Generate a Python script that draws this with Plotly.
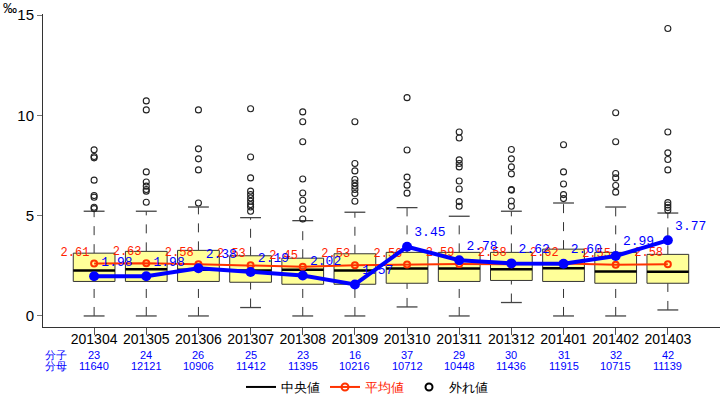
import plotly.graph_objects as go

months = ["201304", "201305", "201306", "201307", "201308", "201309",
          "201310", "201311", "201312", "201401", "201402", "201403"]
numerators = [23, 24, 26, 25, 23, 16, 37, 29, 30, 31, 32, 42]
denominators = [11640, 12121, 10906, 11412, 11395, 10216, 10712, 10448, 11436, 11915, 10715, 11139]
rates = [1.98, 1.98, 2.38, 2.19, 2.02, 1.57, 3.45, 2.78, 2.62, 2.60, 2.99, 3.77]
means = [2.61, 2.63, 2.58, 2.53, 2.45, 2.53, 2.56, 2.59, 2.58, 2.62, 2.55, 2.58]
q1 = [1.72, 1.72, 1.72, 1.68, 1.58, 1.58, 1.63, 1.72, 1.77, 1.72, 1.63, 1.63]
medians = [2.27, 2.33, 2.30, 2.27, 2.30, 2.27, 2.37, 2.37, 2.33, 2.38, 2.22, 2.20]
q3 = [3.13, 3.22, 3.27, 3.00, 2.88, 3.10, 3.17, 3.17, 3.17, 3.33, 3.17, 3.07]
lower_whisker = [0.0, 0.0, 0.0, 0.42, 0.0, 0.0, 0.45, 0.0, 0.67, 0.0, 0.0, 0.30]
upper_whisker = [5.22, 5.22, 5.43, 4.90, 4.75, 5.17, 5.40, 4.97, 5.22, 5.63, 5.43, 5.13]
outliers = [
    [8.28, 7.95, 7.88, 6.77, 6.00, 5.92, 5.42, 5.35],
    [10.72, 10.27, 7.18, 6.68, 6.47, 6.30, 6.22, 5.67],
    [10.27, 8.33, 7.83, 7.28, 5.63],
    [10.33, 7.92, 6.88, 6.22, 6.05, 5.88, 5.72, 5.55, 5.43, 5.22],
    [10.17, 9.68, 8.68, 6.83, 6.13, 5.77, 5.33, 4.83],
    [9.68, 7.60, 7.23, 6.80, 6.63, 6.47, 6.30, 6.10, 5.72],
    [10.88, 8.27, 6.92, 6.52, 6.12],
    [9.17, 8.87, 7.78, 7.60, 7.43, 6.73, 6.33, 5.70, 5.47],
    [8.30, 7.83, 7.43, 7.08, 6.30, 6.27, 5.73, 5.47],
    [8.53, 7.18, 6.58, 6.05, 5.85],
    [10.13, 8.68, 7.10, 6.88, 6.50, 6.17],
    [14.33, 9.17, 8.13, 7.80, 7.28, 5.65, 5.53, 5.40, 5.27],
]
legend_names = ["中央値", "平均値", "外れ値"]
num_label = "分子"
den_label = "分母"
unit_label = "‰"

FONT = "Liberation Sans, Arial, sans-serif"
MONO = "Liberation Mono, DejaVu Sans Mono, monospace"
BOX_HALF = 0.4
CAP_HALF = 0.2
xs = list(range(len(months)))

ML, MR, MT, MB = 43, 0, 14, 74
W, H = 720, 401
PLOT_W = W - ML - MR
PLOT_H = H - MT - MB


def px_to_paper_x(px):
    return (px - ML) / PLOT_W


def px_to_paper_y(py):
    return (H - MB - py) / PLOT_H


fig = go.Figure()

# whiskers (dashed)
wx, wy = [], []
for i in xs:
    wx += [i, i, None, i, i, None]
    wy += [lower_whisker[i], q1[i], None, q3[i], upper_whisker[i], None]
fig.add_trace(go.Scatter(x=wx, y=wy, mode="lines", showlegend=False, hoverinfo="skip",
                         line=dict(color="#333333", width=1, dash="dash")))
# caps
cx, cy = [], []
for i in xs:
    cx += [i - CAP_HALF, i + CAP_HALF, None, i - CAP_HALF, i + CAP_HALF, None]
    cy += [lower_whisker[i], lower_whisker[i], None, upper_whisker[i], upper_whisker[i], None]
fig.add_trace(go.Scatter(x=cx, y=cy, mode="lines", showlegend=False, hoverinfo="skip",
                         line=dict(color="#444444", width=1.3)))
# boxes
bx, by = [], []
for i in xs:
    bx += [i - BOX_HALF, i + BOX_HALF, i + BOX_HALF, i - BOX_HALF, i - BOX_HALF, None]
    by += [q1[i], q1[i], q3[i], q3[i], q1[i], None]
fig.add_trace(go.Scatter(x=bx, y=by, mode="lines", fill="toself", fillcolor="#FFFF99",
                         showlegend=False, hoverinfo="skip",
                         line=dict(color="#333333", width=1)))
# medians
mx, my = [], []
for i in xs:
    mx += [i - BOX_HALF, i + BOX_HALF, None]
    my += [medians[i], medians[i], None]
fig.add_trace(go.Scatter(x=mx, y=my, mode="lines", showlegend=False, hoverinfo="skip",
                         line=dict(color="black", width=2.5)))
# outliers
ox, oy = [], []
for i in xs:
    for v in outliers[i]:
        ox.append(i)
        oy.append(v)
fig.add_trace(go.Scatter(x=ox, y=oy, mode="markers", showlegend=False,
                         marker=dict(symbol="circle-open", size=6, color="#222222",
                                     line=dict(width=1.1, color="#222222"))))
# mean line
fig.add_trace(go.Scatter(x=xs, y=means, mode="lines+markers+text", showlegend=False,
                         line=dict(color="#FF3300", width=2),
                         marker=dict(symbol="circle-open", size=6, color="#FF3300", line=dict(width=2)),
                         text=[f"{v:.2f}" for v in means], textposition="top left",
                         textfont=dict(color="#FF2200", size=12, family=MONO)))
# rate line
fig.add_trace(go.Scatter(x=xs, y=rates, mode="lines+markers+text", showlegend=False,
                         line=dict(color="#0000FF", width=4),
                         marker=dict(size=10, color="#0000FF"),
                         text=[f"{v:.2f}" for v in rates], textposition="top right",
                         textfont=dict(color="#0000FF", size=13, family=MONO)))

# legend entries
fig.add_trace(go.Scatter(x=[None], y=[None], mode="lines", name=legend_names[0],
                         line=dict(color="black", width=2)))
fig.add_trace(go.Scatter(x=[None], y=[None], mode="lines+markers",
                         name=f"<span style='color:#FF2200'>{legend_names[1]}</span>",
                         line=dict(color="#FF3300", width=2),
                         marker=dict(symbol="circle-open", size=7, color="#FF3300", line=dict(width=2))))
fig.add_trace(go.Scatter(x=[None], y=[None], mode="markers", name=legend_names[2],
                         marker=dict(symbol="circle-open", size=7, color="black", line=dict(width=2))))

annotations = []
small_blue = dict(color="#0000FF", size=11, family=FONT)
for i in xs:
    annotations.append(dict(x=i, y=px_to_paper_y(355), xref="x", yref="paper", text=str(numerators[i]),
                            xanchor="center", yanchor="middle", showarrow=False, font=small_blue))
    annotations.append(dict(x=i, y=px_to_paper_y(366), xref="x", yref="paper", text=str(denominators[i]),
                            xanchor="center", yanchor="middle", showarrow=False, font=small_blue))
annotations.append(dict(x=px_to_paper_x(56), y=px_to_paper_y(355), xref="paper", yref="paper",
                        xanchor="center", yanchor="middle",
                        text=num_label, showarrow=False, font=small_blue))
annotations.append(dict(x=px_to_paper_x(56), y=px_to_paper_y(366), xref="paper", yref="paper",
                        xanchor="center", yanchor="middle",
                        text=den_label, showarrow=False, font=small_blue))
annotations.append(dict(x=px_to_paper_x(1), y=px_to_paper_y(8), xref="paper", yref="paper",
                        xanchor="left", yanchor="middle",
                        text=unit_label, showarrow=False, font=dict(color="black", size=14, family=FONT)))

fig.update_layout(
    width=W, height=H,
    margin=dict(l=ML, r=MR, t=MT, b=MB, autoexpand=False),
    plot_bgcolor="white", paper_bgcolor="white",
    font=dict(family=FONT, size=13, color="black"),
    showlegend=True,
    legend=dict(orientation="h", x=px_to_paper_x(367), xanchor="center",
                y=px_to_paper_y(387), yanchor="middle",
                font=dict(size=13, color="black"), bgcolor="rgba(0,0,0,0)"),
    xaxis=dict(range=[-0.98, 12.0], tickvals=xs, ticktext=months, showgrid=False, zeroline=False,
               showline=True, linecolor="#333333", linewidth=1, ticks="outside", ticklen=7,
               ticklabelstandoff=-8,
               tickcolor="#555555", tickfont=dict(size=14, color="black"), automargin=False),
    yaxis=dict(range=[-0.55, 15.05], tickvals=[0, 5, 10, 15], showgrid=False, zeroline=False,
               showline=True, linecolor="#333333", linewidth=1, ticks="outside", ticklen=5,
               tickcolor="#777777", tickfont=dict(size=15, color="black"), automargin=False),
    annotations=annotations,
)

fig.write_html("out.html", config={"displayModeBar": False},
               post_script="document.body.style.margin='0';document.body.style.overflow='hidden';")
